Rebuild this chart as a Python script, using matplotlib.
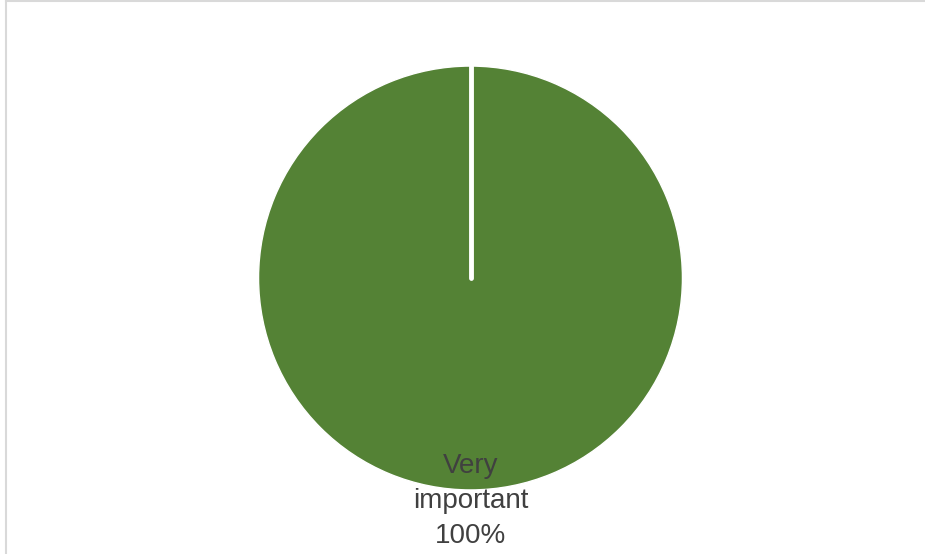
import numpy as np
import matplotlib.pyplot as plt
from matplotlib.lines import Line2D

# data
labels = ["Very\nimportant"]
values = [100]
colors = ["#548235"]
start = 90

fig = plt.figure(figsize=(9.25, 5.54), dpi=100)
fig.patch.set_facecolor("white")

# chart border (cropped screenshot: only top and left edges visible)
fig.add_artist(Line2D([5.5 / 925, 1], [1 - 1 / 554, 1 - 1 / 554], color="#d9d9d9", lw=1.5))
fig.add_artist(Line2D([5.5 / 925, 5.5 / 925], [0, 1 - 1 / 554], color="#d9d9d9", lw=1.5))

# pie placement in pixels
cx, cy, r = 470.5, 278, 213
ax = fig.add_axes([(cx - r) / 925, (554 - cy - r) / 554, 2 * r / 925, 2 * r / 554])
wedges, _ = ax.pie(values, colors=colors, startangle=start, counterclock=False,
                   wedgeprops=dict(edgecolor="white", linewidth=1))
# radial separator edge of the single full wedge
a = np.deg2rad(start)
ax.plot([0, np.cos(a)], [0, np.sin(a)], color="white", lw=3.5, solid_capstyle="round")
ax.set_xlim(-1.005, 1.005)
ax.set_ylim(-1.005, 1.005)
ax.set_aspect("equal")
ax.axis("off")

total = sum(values)
for lab, v in zip(labels, values):
    fig.text(cx / 925, 1 - 501 / 554, f"{lab}\n{v / total:.0%}", ha="center", va="center",
             fontsize=20, color="#404040", family="Liberation Sans", linespacing=1.45)

fig.savefig("out.png", dpi=100)
